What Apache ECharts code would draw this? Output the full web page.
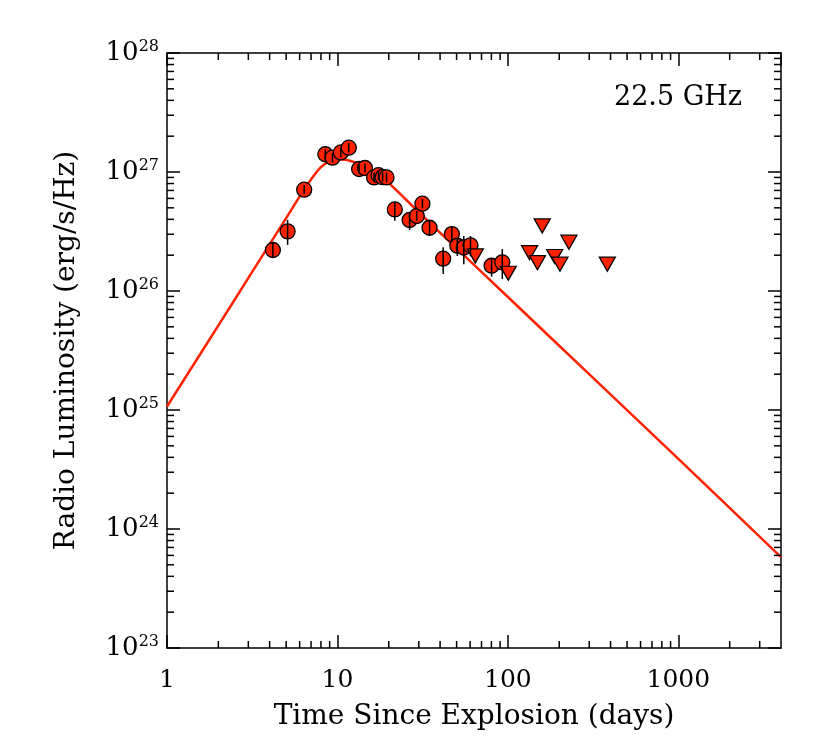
<!DOCTYPE html>
<html>
<head>
<meta charset="utf-8">
<script src="https://cdn.jsdelivr.net/npm/echarts@6/dist/echarts.min.js"></script>
<style>
  html, body { margin: 0; padding: 0; background: #fff; }
  #chart { width: 830px; height: 755px; }
</style>
</head>
<body>
<div id="chart"></div>
<script>
// detections (days, erg/s/Hz) with error bar ends
var days   = [4.18, 5.10, 6.38, 8.49, 9.35, 10.47, 11.65, 13.4, 14.5, 16.4, 17.4, 18.4, 19.4,
              21.7, 26.5, 29.2, 31.5, 34.7, 41.7, 46.9, 50.5, 55.1, 60.3, 80.2, 92.7];
var lum    = [2.21e26, 3.17e26, 7.1e26, 1.41e27, 1.32e27, 1.46e27, 1.60e27, 1.06e27, 1.08e27, 9.0e26, 9.4e26, 9.05e26, 9.0e26,
              4.85e26, 3.95e26, 4.27e26, 5.42e26, 3.40e26, 1.87e26, 3.01e26, 2.40e26, 2.32e26, 2.42e26, 1.63e26, 1.74e26];
var lumLo  = [1.89e26, 2.44e26, 6.49e26, 1.29e27, 1.20e27, 1.33e27, 1.46e27, 9.7e26, 9.9e26, 8.2e26, 8.6e26, 8.3e26, 8.2e26,
              3.90e26, 3.26e26, 3.9e26, 4.95e26, 2.90e26, 1.39e26, 2.60e26, 1.97e26, 1.68e26, 1.95e26, 1.32e26, 1.26e26];
var lumHi  = [2.53e26, 3.96e26, 7.78e26, 1.55e27, 1.45e27, 1.60e27, 1.75e27, 1.16e27, 1.18e27, 9.9e26, 1.03e27, 9.9e26, 9.9e26,
              5.63e26, 4.50e26, 4.7e26, 5.95e26, 3.87e26, 2.33e26, 3.52e26, 2.77e26, 2.90e26, 2.90e26, 1.88e26, 2.25e26];

// upper limits
var limDays = [64.4, 100.5, 134, 149, 159, 188, 202, 228, 383];
var limLum  = [1.97e26, 1.41e26, 2.10e26, 1.73e26, 3.52e26, 1.95e26, 1.68e26, 2.57e26, 1.68e26];

// model light curve
var modelDays = [1, 1.585, 2.51, 3.98, 5.01, 6.31, 7.08, 7.94, 8.91, 10, 11.2, 12.6, 14.1, 15.8, 20, 25.1, 39.8, 100, 316, 1000, 4000];
var modelLum  = [1.07e25, 3.03e25, 8.57e25, 2.44e26, 4.11e26, 6.97e26, 8.85e26, 1.09e27, 1.22e27, 1.28e27, 1.27e27, 1.21e27,
                 1.12e27, 1.01e27, 8.04e26, 5.9e26, 3.11e26, 8.9e25, 1.86e25, 3.88e24, 5.8e23];

var xMin = 1, xMax = 4000, yMin = 1e23, yMax = 1e28;
var red = '#ff2200';
var font = 'DejaVu Serif';

// minor tick positions
var xMinor = [], yMinor = [];
for (var k = 0; k < 4; k++) {
  for (var m = 2; m <= 9; m++) {
    var v = m * Math.pow(10, k);
    if (v < xMax) xMinor.push([v, yMin]);
  }
}
for (var e = 23; e < 28; e++) {
  for (var m2 = 2; m2 <= 9; m2++) yMinor.push([xMin, m2 * Math.pow(10, e)]);
}

var chart = echarts.init(document.getElementById('chart'));

function axisX(pos, showLabel) {
  return {
    type: 'log', position: pos, min: xMin, max: xMax, logBase: 10,
    axisLine: { show: true, onZero: false, lineStyle: { color: '#000', width: 1.5 } },
    axisTick: { show: true, inside: true, length: 13, lineStyle: { color: '#000', width: 1.5 } },
    splitLine: { show: false },
    axisLabel: {
      show: showLabel, color: '#000', fontFamily: font, fontSize: 25, margin: 20,
      showMaxLabel: false,
      formatter: function (v) { return String(Math.round(v)); }
    },
    name: showLabel ? 'Time Since Explosion (days)' : '',
    nameLocation: 'middle', nameGap: 55,
    nameTextStyle: { color: '#000', fontFamily: font, fontSize: 28 }
  };
}
function axisY(pos, showLabel) {
  return {
    type: 'log', position: pos, min: yMin, max: yMax, logBase: 10,
    axisLine: { show: true, onZero: false, lineStyle: { color: '#000', width: 1.5 } },
    axisTick: { show: true, inside: true, length: 13, lineStyle: { color: '#000', width: 1.5 } },
    splitLine: { show: false },
    axisLabel: {
      show: showLabel, color: '#000', fontFamily: font, margin: 8,
      formatter: function (v) { return '{b|10}{s|' + Math.round(Math.log10(v)) + '}'; },
      rich: {
        b: { fontFamily: font, fontSize: 26, color: '#000' },
        s: { fontFamily: font, fontSize: 16, color: '#000', verticalAlign: 'top', padding: [0, 0, 12, 0] }
      }
    },
    name: showLabel ? 'Radio Luminosity (erg/s/Hz)' : '',
    nameLocation: 'middle', nameGap: 86,
    nameTextStyle: { color: '#000', fontFamily: font, fontSize: 28 }
  };
}

chart.setOption({
  animation: false,
  backgroundColor: '#fff',
  grid: { left: 167, right: 49, top: 53, bottom: 107 },
  xAxis: [axisX('bottom', true), axisX('top', false)],
  yAxis: [axisY('left', true), axisY('right', false)],
  graphic: [{
    type: 'text', right: 88, top: 84,
    style: { text: '22.5 GHz', fontFamily: font, fontSize: 27, fill: '#000' }
  }],
  series: [
    {
      type: 'line', name: 'model', data: modelDays.map(function (d, i) { return [d, modelLum[i]]; }),
      showSymbol: false, smooth: 0.3, z: 2,
      lineStyle: { color: red, width: 2.5 }
    },
    {
      type: 'scatter', name: 'detections', data: days.map(function (d, i) { return [d, lum[i]]; }),
      symbol: 'circle', symbolSize: 15, z: 3,
      itemStyle: { color: red, borderColor: '#000', borderWidth: 1.3, opacity: 1 }
    },
    {
      type: 'scatter', name: 'limits', data: limDays.map(function (d, i) { return [d, limLum[i]]; }),
      symbol: 'triangle', symbolRotate: 180, symbolSize: [16, 14], z: 3,
      itemStyle: { color: red, borderColor: '#000', borderWidth: 1.3, opacity: 1 }
    },
    {
      type: 'custom', name: 'errors', z: 4,
      data: days.map(function (d, i) { return [d, lumLo[i], lumHi[i]]; }),
      encode: { x: 0, y: [1, 2] },
      renderItem: function (params, api) {
        var lo = api.coord([api.value(0), api.value(1)]);
        var hi = api.coord([api.value(0), api.value(2)]);
        return { type: 'line', shape: { x1: lo[0], y1: lo[1], x2: hi[0], y2: hi[1] },
                 style: { stroke: '#000', lineWidth: 1.5 } };
      }
    },
    {
      type: 'custom', name: 'xminor', z: 5, silent: true, clip: false,
      data: xMinor,
      renderItem: function (params, api) {
        var b = api.coord([api.value(0), yMin]);
        var t = api.coord([api.value(0), yMax]);
        var st = { stroke: '#000', lineWidth: 1.5 };
        return { type: 'group', children: [
          { type: 'line', shape: { x1: b[0], y1: b[1], x2: b[0], y2: b[1] - 7 }, style: st },
          { type: 'line', shape: { x1: t[0], y1: t[1], x2: t[0], y2: t[1] + 7 }, style: st }
        ] };
      }
    },
    {
      type: 'custom', name: 'yminor', z: 5, silent: true, clip: false,
      data: yMinor,
      renderItem: function (params, api) {
        var l = api.coord([xMin, api.value(1)]);
        var r = api.coord([xMax, api.value(1)]);
        var st = { stroke: '#000', lineWidth: 1.5 };
        return { type: 'group', children: [
          { type: 'line', shape: { x1: l[0], y1: l[1], x2: l[0] + 7, y2: l[1] }, style: st },
          { type: 'line', shape: { x1: r[0], y1: r[1], x2: r[0] - 7, y2: r[1] }, style: st }
        ] };
      }
    }
  ]
});
</script>
</body>
</html>
